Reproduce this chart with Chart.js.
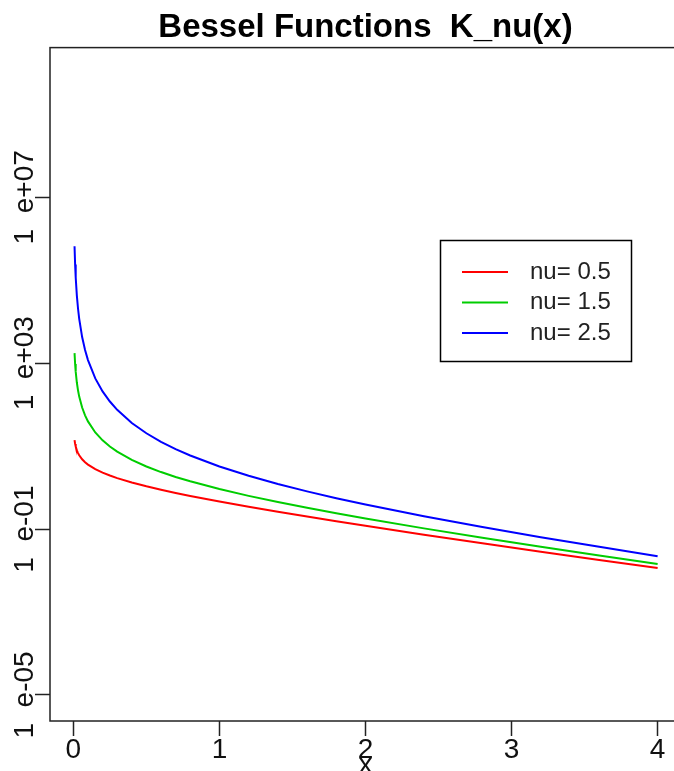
<!DOCTYPE html>
<html>
<head>
<meta charset="utf-8">
<script src="https://cdn.jsdelivr.net/npm/chart.js@4.4.0/dist/chart.umd.min.js"></script>
<style>
  html, body { margin: 0; padding: 0; background: #fff; overflow: hidden; }
  canvas { display: block; }
</style>
</head>
<body>
<canvas id="myChart" width="690" height="771"></canvas>
<script>
// ====== values ======
const xVals = [0.008, 0.012, 0.016, 0.024, 0.032, 0.04, 0.06, 0.08, 0.1, 0.15, 0.2, 0.25, 0.3, 0.4, 0.5,
  0.6, 0.7, 0.8, 1.0, 1.2, 1.4, 1.6, 1.8, 2.0, 2.4, 2.8, 3.2, 3.6, 4.0];
const nu05 = [13.90, 11.31, 9.751, 7.898, 6.786, 6.021, 4.819, 4.091, 3.586, 2.785, 2.295, 1.952, 1.695, 1.328, 1.075,
  0.888, 0.7439, 0.6296, 0.4611, 0.3446, 0.2612, 0.2001, 0.1544, 0.1199, 0.07339, 0.04555, 0.02856, 0.01805, 0.01148];
const nu15 = [1751, 953.4, 619.2, 337.0, 218.8, 156.5, 85.13, 55.22, 39.45, 21.35, 13.77, 9.761, 7.346, 4.649, 3.225,
  2.368, 1.807, 1.417, 0.9221, 0.6318, 0.4478, 0.3251, 0.2402, 0.1799, 0.1040, 0.06181, 0.03748, 0.02306, 0.01435];
const nu25 = [656840, 238360, 116110, 42130, 20520, 11750, 4261, 2075, 1187, 429.9, 208.8, 119.1, 75.15, 36.20, 20.43,
  12.73, 8.486, 5.942, 3.228, 1.924, 1.221, 0.8096, 0.5548, 0.3898, 0.2034, 0.1118, 0.06370, 0.03727, 0.02224];

const seriesLabels = ["nu= 0.5", "nu= 1.5", "nu= 2.5"];
const seriesColors = ["#ff0000", "#00cd00", "#0000ff"];
const xTicks = [0, 1, 2, 3, 4];
const yTicks = [1e-5, 1e-1, 1e3, 1e7];
const yTickLabels = ["1  e-05", "1  e-01", "1  e+03", "1  e+07"];

const tickFamily = "'Liberation Sans Narrow', 'Liberation Sans', sans-serif";

function toPoints(ys) {
  return xVals.map((x, i) => ({ x: x, y: ys[i] }));
}

// width of longest y label (needed to centre the turned labels)
const mctx = document.createElement("canvas").getContext("2d");
mctx.font = "28px " + tickFamily;
let widest = 0;
yTickLabels.forEach((l) => {
  widest = Math.max(widest, mctx.measureText(l).width);
});

// plot box + legend, R style
const boxPlugin = {
  id: "box",
  afterDraw(chart) {
    const ctx = chart.ctx;
    const a = chart.chartArea;
    ctx.save();
    ctx.strokeStyle = "#222";
    ctx.lineWidth = 1.5;
    ctx.strokeRect(a.left, a.top, a.right - a.left, a.bottom - a.top);

    ctx.strokeStyle = "#000";
    ctx.strokeRect(440.5, 240.5, 191, 121);
    ctx.font = "24px 'Liberation Sans', sans-serif";
    ctx.textBaseline = "middle";
    ctx.fillStyle = "#222";
    chart.data.datasets.forEach((ds, i) => {
      const y = 272 + i * 30.5;
      ctx.strokeStyle = ds.borderColor;
      ctx.lineWidth = 2;
      ctx.beginPath();
      ctx.moveTo(462, y);
      ctx.lineTo(508, y);
      ctx.stroke();
      ctx.fillText(ds.label, 530, y);
    });
    ctx.restore();
  },
};

const tickFont = { family: tickFamily, size: 28, lineHeight: 1 };

let ctx = document.getElementById("myChart").getContext("2d");
let graphie = new Chart(ctx, {
  type: "line",
  data: {
    datasets: [
      { label: seriesLabels[0], data: toPoints(nu05), borderColor: seriesColors[0] },
      { label: seriesLabels[1], data: toPoints(nu15), borderColor: seriesColors[1] },
      { label: seriesLabels[2], data: toPoints(nu25), borderColor: seriesColors[2] },
    ],
  },
  options: {
    responsive: false,
    animation: false,
    elements: {
      point: { radius: 0 },
      line: { borderWidth: 2, tension: 0, fill: false },
    },
    layout: { padding: { left: 0, right: 9, top: 0, bottom: 0 } },
    plugins: {
      legend: { display: false },
      tooltip: { enabled: false },
      title: {
        display: true,
        text: "Bessel Functions  K_nu(x)",
        fullSize: false,
        color: "#000",
        font: { family: "'Liberation Sans', sans-serif", size: 33, weight: "bold", lineHeight: 1.2 },
        padding: { top: 8, bottom: 0 },
      },
    },
    scales: {
      x: {
        type: "linear",
        min: -0.16,
        max: 4.16,
        afterBuildTicks: (s) => {
          s.ticks = xTicks.map((v) => ({ value: v }));
        },
        afterFit: (s) => {
          s.height = 50;
        },
        ticks: { font: tickFont, color: "#111", padding: 0, maxRotation: 0, callback: (v) => String(v) },
        grid: { drawOnChartArea: false, tickLength: 15, tickColor: "#222", tickWidth: 1.5 },
        border: { display: false },
        title: { display: true, text: "x", color: "#111", font: tickFont, padding: { top: 0, bottom: -8 } },
      },
      y: {
        type: "logarithmic",
        min: 2.355e-6,
        max: 4.07e10,
        afterBuildTicks: (s) => {
          s.ticks = yTicks.map((v) => ({ value: v }));
        },
        afterFit: (s) => {
          s.width = 50;
        },
        ticks: {
          font: tickFont,
          color: "#111",
          padding: 10 - widest / 2,
          minRotation: 90,
          maxRotation: 90,
          crossAlign: "center",
          callback: (v, i) => yTickLabels[i],
        },
        grid: { drawOnChartArea: false, tickLength: 15, tickColor: "#222", tickWidth: 1.5 },
        border: { display: false },
      },
    },
  },
  plugins: [boxPlugin],
});
</script>
</body>
</html>
